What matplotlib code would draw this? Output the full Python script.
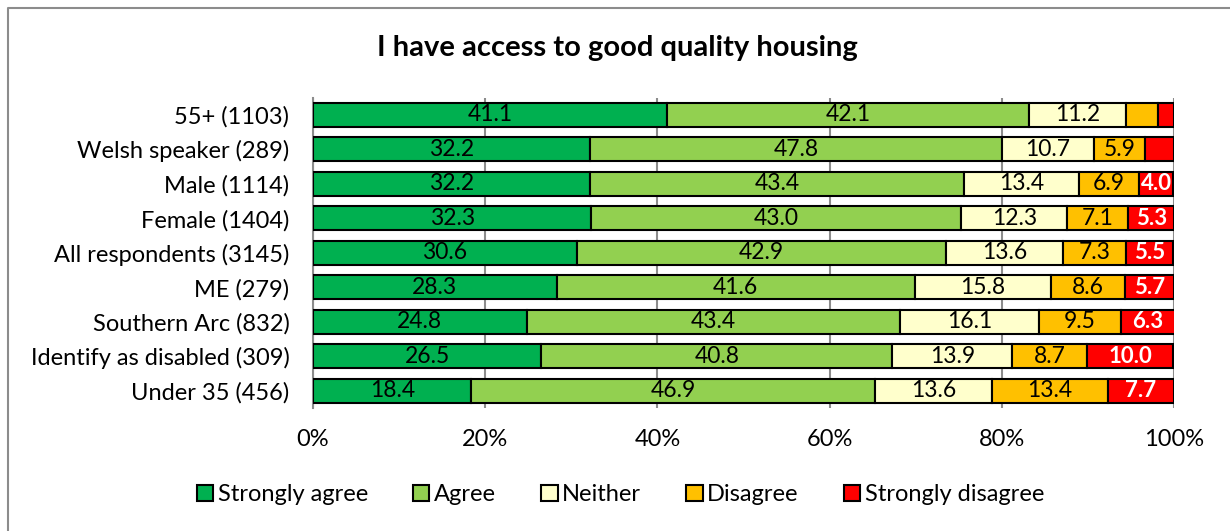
import matplotlib.pyplot as plt
from matplotlib.lines import Line2D
import numpy as np

plt.rcParams['font.family'] = ['Lato', 'DejaVu Sans']

groups = ['55+ (1103)', 'Welsh speaker (289)', 'Male (1114)', 'Female (1404)',
          'All respondents (3145)', 'ME (279)', 'Southern Arc (832)',
          'Identify as disabled (309)', 'Under 35 (456)']
strongly_agree = [41.1, 32.2, 32.2, 32.3, 30.6, 28.3, 24.8, 26.5, 18.4]
agree = [42.1, 47.8, 43.4, 43.0, 42.9, 41.6, 43.4, 40.8, 46.9]
neither = [11.2, 10.7, 13.4, 12.3, 13.6, 15.8, 16.1, 13.9, 13.6]
disagree = [3.7, 5.9, 6.9, 7.1, 7.3, 8.6, 9.5, 8.7, 13.4]
strongly_disagree = [1.9, 3.4, 4.0, 5.3, 5.5, 5.7, 6.3, 10.0, 7.7]

series = {
    'Strongly agree': strongly_agree,
    'Agree': agree,
    'Neither': neither,
    'Disagree': disagree,
    'Strongly disagree': strongly_disagree,
}
colors = ['#00B050', '#92D050', '#FFFFCC', '#FFC000', '#FF0000']

fig = plt.figure(figsize=(12.3, 5.31), dpi=100)
# chart frame (left and top edges)
fig.lines.append(Line2D([0.0065, 0.0065, 1.0], [0.0, 0.984, 0.984],
                        transform=fig.transFigure, color='#8c8c8c', linewidth=1.5))
ax = fig.add_axes([0.2545, 0.2316, 0.7, 0.5845])

y = np.arange(len(groups))
left = np.zeros(len(groups))
for idx, (name, vals) in enumerate(series.items()):
    vals = np.array(vals)
    ax.barh(y, vals, left=left, height=0.7, color=colors[idx],
            edgecolor='black', linewidth=1.5, label=name, zorder=3)
    last = idx == len(series) - 1
    for yi, v, l in zip(y, vals, left):
        if v < 4:
            continue
        ax.text(l + v / 2, yi, f'{v:.1f}', ha='center', va='center',
                fontsize=16.5 if not last else 16,
                color='white' if last else 'black',
                fontweight='bold' if last else 'normal', zorder=4)
    left += vals

ax.set_xlim(0, 100)
ax.set_ylim(len(groups) - 0.5, -0.5)
ax.set_yticks(y)
ax.set_yticklabels(groups, fontsize=17)
ax.set_xticks(np.arange(0, 101, 20))
ax.set_xticklabels([f'{t}%' for t in range(0, 101, 20)], fontsize=17)
ax.tick_params(axis='both', length=0)
ax.tick_params(axis='x', pad=15)
ax.tick_params(axis='y', pad=17)
ax.grid(axis='x', color='#8c8c8c', linewidth=1.5, zorder=0)
for s in ['top', 'right', 'bottom']:
    ax.spines[s].set_visible(False)
ax.spines['left'].set_color('#8c8c8c')
ax.spines['left'].set_linewidth(1.5)

fig.suptitle('I have access to good quality housing', x=0.502, y=0.935,
             fontsize=21, fontweight='bold')

ax.legend(loc='center', bbox_to_anchor=(0.357, -0.28), ncol=5, frameon=False,
          fontsize=17, handlelength=0.7, handleheight=0.7, handletextpad=0.2,
          columnspacing=1.9)

fig.savefig('out.png', dpi=100)
